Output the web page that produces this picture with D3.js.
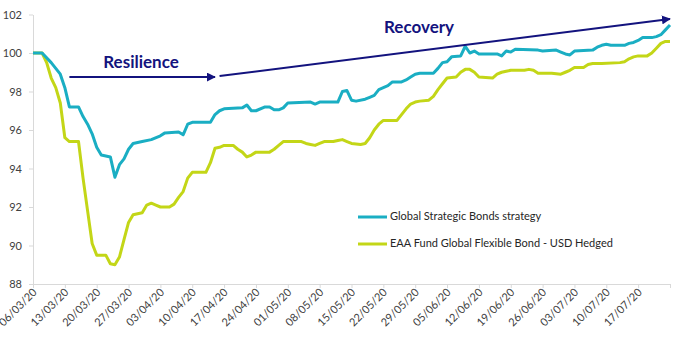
<!DOCTYPE html>
<html>
<head>
<meta charset="utf-8">
<script src="https://cdn.jsdelivr.net/npm/d3@7"></script>
<style>
  body { margin: 0; background: #fff; }
  svg text { font-family: Lato, "Open Sans", sans-serif; }
</style>
</head>
<body>
<svg id="chart" width="684" height="350"></svg>
<script>
// Global Strategic Bonds strategy (vertices)
const strategyDates = [
  "06/03","08/03","10/03","11/03","12/03","13/03","14/03","16/03","17/03","18/03",
  "19/03","20/03","21/03","23/03","24/03","25/03","26/03","27/03","28/03","30/03",
  "01/04","03/04","04/04","07/04","08/04","09/04","10/04","14/04","15/04","16/04",
  "17/04","21/04","22/04","23/04","24/04","26/04","27/04","28/04","29/04","30/04",
  "01/05","06/05","07/05","08/05","12/05","13/05","14/05","15/05","16/05","18/05",
  "19/05","20/05","21/05","22/05","23/05","24/05","26/05","27/05","28/05","29/05",
  "30/05","02/06","03/06","04/06","05/06","06/06","08/06","09/06","10/06","11/06",
  "12/06","16/06","17/06","18/06","19/06","20/06","25/06","26/06","29/06","30/06",
  "01/07","02/07","03/07","07/07","08/07","09/07","10/07","11/07","14/07","15/07",
  "16/07","17/07","18/07","20/07","21/07","22/07","23/07","24/07"
];
const strategyValues = [
  100, 100, 99.5, 99.2, 98.9, 98.2, 97.2, 97.2, 96.7, 96.3,
  95.8, 95.1, 94.7, 94.6, 93.55, 94.2, 94.5, 95.0, 95.3, 95.4,
  95.5, 95.7, 95.85, 95.9, 95.75, 96.3, 96.4, 96.4, 96.8, 97.0,
  97.1, 97.15, 97.3, 97.0, 97.0, 97.2, 97.2, 97.05, 97.05, 97.15,
  97.4, 97.45, 97.35, 97.45, 97.45, 98.0, 98.05, 97.55, 97.5, 97.6,
  97.7, 97.8, 98.1, 98.2, 98.3, 98.5, 98.5, 98.6, 98.75, 98.9,
  98.95, 98.95, 99.2, 99.5, 99.55, 99.8, 99.85, 100.35, 100.0, 100.1,
  99.95, 99.95, 99.85, 100.1, 100.05, 100.2, 100.15, 100.1, 100.15, 100.05,
  99.95, 99.9, 100.1, 100.15, 100.3, 100.4, 100.45, 100.4, 100.4, 100.5,
  100.55, 100.65, 100.8, 100.8, 100.85, 100.95, 101.2, 101.45
];

// EAA Fund Global Flexible Bond - USD Hedged
const fundDates = [
  "06/03","08/03","09/03","10/03","11/03","12/03","13/03","14/03","16/03","17/03",
  "18/03","19/03","20/03","22/03","23/03","24/03","25/03","26/03","27/03","28/03",
  "30/03","31/03","01/04","02/04","03/04","05/04","06/04","07/04","08/04","09/04",
  "10/04","13/04","14/04","15/04","16/04","17/04","19/04","20/04","21/04","22/04",
  "23/04","24/04","27/04","28/04","29/04","30/04","04/05","05/05","06/05","07/05",
  "08/05","09/05","11/05","12/05","13/05","14/05","15/05","17/05","18/05","19/05",
  "20/05","21/05","22/05","25/05","26/05","27/05","28/05","29/05","30/05","01/06",
  "02/06","03/06","04/06","05/06","07/06","08/06","09/06","10/06","11/06","12/06",
  "15/06","16/06","17/06","18/06","19/06","22/06","23/06","24/06","25/06","28/06",
  "30/06","01/07","02/07","03/07","05/07","06/07","07/07","09/07","13/07","14/07",
  "15/07","16/07","17/07","19/07","20/07","21/07","22/07","23/07","24/07"
];
const fundValues = [
  100, 100, 99.5, 98.7, 98.2, 97.4, 95.6, 95.4, 95.4, 93.5,
  91.8, 90.1, 89.5, 89.5, 89.05, 89.0, 89.4, 90.3, 91.2, 91.6,
  91.7, 92.1, 92.2, 92.1, 92.0, 92.0, 92.15, 92.5, 92.8, 93.5,
  93.8, 93.8, 94.3, 95.05, 95.1, 95.2, 95.2, 95.0, 94.85, 94.6,
  94.7, 94.85, 94.85, 95.0, 95.2, 95.4, 95.4, 95.3, 95.25, 95.2,
  95.3, 95.4, 95.4, 95.45, 95.5, 95.4, 95.3, 95.25, 95.3, 95.6,
  96.0, 96.3, 96.5, 96.5, 96.8, 97.1, 97.35, 97.45, 97.5, 97.55,
  97.75, 98.1, 98.4, 98.7, 98.75, 99.0, 99.15, 99.15, 99.0, 98.75,
  98.7, 98.9, 99.0, 99.05, 99.1, 99.1, 99.15, 99.1, 98.95, 98.95,
  98.9, 99.0, 99.1, 99.25, 99.25, 99.4, 99.45, 99.45, 99.5, 99.55,
  99.7, 99.8, 99.85, 99.85, 100.0, 100.25, 100.5, 100.6, 100.6
];

const tickLabels = [
  "06/03/20","13/03/20","20/03/20","27/03/20","03/04/20","10/04/20","17/04/20",
  "24/04/20","01/05/20","08/05/20","15/05/20","22/05/20","29/05/20","05/06/20",
  "12/06/20","19/06/20","26/06/20","03/07/20","10/07/20","17/07/20"
];
const yTicks = [88, 90, 92, 94, 96, 98, 100, 102];
const seriesNames = ["Global Strategic Bonds strategy", "EAA Fund Global Flexible Bond - USD Hedged"];
const colors = ["#1aaec3", "#c3d617"];

const parseDay = d3.timeParse("%d/%m/%Y");
const parseTick = d3.timeParse("%d/%m/%y");

const svg = d3.select("#chart");
const x = d3.scaleTime()
  .domain([parseDay("06/03/2020"), parseDay("24/07/2020")])
  .range([33, 670]);
const y = d3.scaleLinear().domain([88, 102]).range([284, 14.5]);

// axes
const tickDates = tickLabels.map(parseTick).concat([parseDay("24/07/2020")]);
const xAxis = svg.append("g")
  .attr("transform", "translate(0," + y(88) + ")")
  .call(d3.axisBottom(x).tickValues(tickDates).tickSize(4).tickSizeOuter(0).tickFormat(""));
xAxis.selectAll("path, line").attr("stroke", "#d9d9d9");
xAxis.selectAll(".tick").filter((d, i) => i < tickLabels.length)
  .append("text")
  .attr("transform", "translate(4,9) rotate(-45)")
  .attr("text-anchor", "end")
  .attr("fill", "#404040")
  .attr("font-size", "11px")
  .text((d, i) => tickLabels[i]);

const yAxis = svg.append("g")
  .attr("transform", "translate(" + x.range()[0] + ",0)")
  .call(d3.axisLeft(y).tickValues(yTicks).tickSize(4).tickSizeOuter(0).tickPadding(7));
yAxis.selectAll("path, line").attr("stroke", "#d9d9d9");
yAxis.selectAll("text").attr("fill", "#404040").attr("font-size", "11px")
  .attr("font-family", "Lato, sans-serif");

// lines
const line = d3.line().x(d => x(d[0])).y(d => y(d[1]));
const toPts = (dates, vals) => dates.map((d, i) => [parseDay(d + "/2020"), vals[i]]);
const series = [toPts(fundDates, fundValues), toPts(strategyDates, strategyValues)];
svg.append("path").datum(series[0])
  .attr("d", line).attr("fill", "none").attr("stroke", colors[1])
  .attr("stroke-width", 3).attr("stroke-linejoin", "round");
svg.append("path").datum(series[1])
  .attr("d", line).attr("fill", "none").attr("stroke", colors[0])
  .attr("stroke-width", 3).attr("stroke-linejoin", "round");

// annotations
const navy = "#13137e";
svg.append("defs").append("marker")
  .attr("id", "arrow").attr("viewBox", "0 0 10 10")
  .attr("refX", 9).attr("refY", 5)
  .attr("markerWidth", 4.5).attr("markerHeight", 4.5)
  .attr("orient", "auto")
  .append("path").attr("d", "M0,0 L10,5 L0,10 Z").attr("fill", navy);

svg.append("line")
  .attr("x1", x(parseDay("14/03/2020"))).attr("y1", y(98.75))
  .attr("x2", x(parseDay("15/04/2020"))).attr("y2", y(98.75))
  .attr("stroke", navy).attr("stroke-width", 2).attr("marker-end", "url(#arrow)");
svg.append("line")
  .attr("x1", x(parseDay("16/04/2020"))).attr("y1", y(98.8))
  .attr("x2", x(parseDay("24/07/2020"))).attr("y2", y(101.77))
  .attr("stroke", navy).attr("stroke-width", 2).attr("marker-end", "url(#arrow)");

svg.append("text")
  .attr("x", 141).attr("y", 68)
  .attr("text-anchor", "middle")
  .attr("fill", navy).attr("font-size", "17px").attr("font-weight", 700)
  .text("Resilience");
svg.append("text")
  .attr("x", 419).attr("y", 33)
  .attr("text-anchor", "middle")
  .attr("fill", navy).attr("font-size", "17px").attr("font-weight", 700)
  .text("Recovery");

// legend
const legend = svg.append("g").attr("transform", "translate(358,217)");
seriesNames.forEach((name, i) => {
  const g = legend.append("g").attr("transform", "translate(0," + (i * 27) + ")");
  g.append("line").attr("x1", 0).attr("x2", 29).attr("y1", 0).attr("y2", 0)
    .attr("stroke", colors[i]).attr("stroke-width", 3);
  g.append("text").attr("x", 32).attr("y", 0)
    .attr("dominant-baseline", "middle")
    .attr("fill", "#262626").attr("font-size", "11px")
    .text(name);
});
</script>
</body>
</html>
